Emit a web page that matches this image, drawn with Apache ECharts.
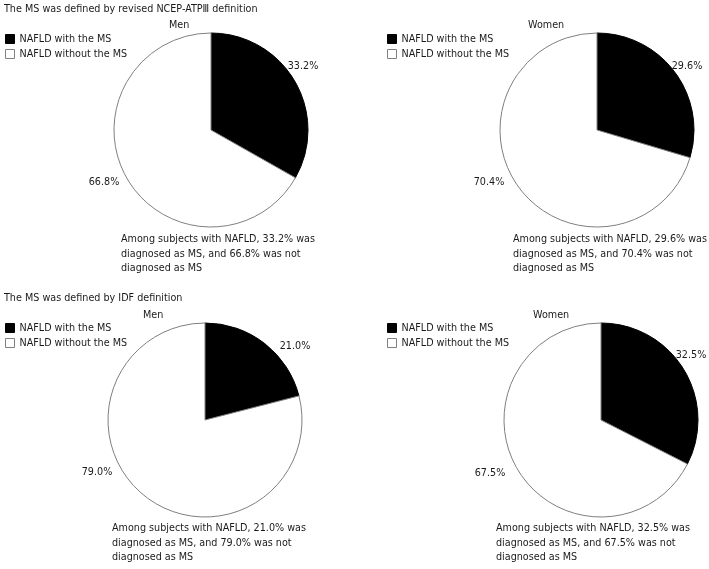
<!DOCTYPE html>
<html><head><meta charset="utf-8">
<script src="https://cdn.jsdelivr.net/npm/echarts@6/dist/echarts.min.js"></script>
<style>html,body{margin:0;padding:0;background:#fff}#c{width:709px;height:569px}</style>
</head><body><div id="c"></div>
<script>
const categories = ['NAFLD with the MS', 'NAFLD without the MS'];
const sectionTitles = ['The MS was defined by revised NCEP-ATPⅢ definition', 'The MS was defined by IDF definition'];
const panelNames = ['Men', 'Women', 'Men', 'Women'];
const atpMen = [33.2, 66.8];
const atpWomen = [29.6, 70.4];
const idfMen = [21.0, 79.0];
const idfWomen = [32.5, 67.5];
const panelValues = [atpMen, atpWomen, idfMen, idfWomen];

const FONT = 'DejaVu Sans Condensed';
const FS = 10.7;
const TXT = '#1a1a1a';
const R = 97;
const centers = [[211,130],[597,130],[205,420],[601,420]];
const panelTitlePos = [[169,20],[528,20],[143,310],[533,310]];
const legendPos = [[5,32],[387,32],[5,321],[387,321]];
const notePos = [[121,232],[513,232],[112,521],[496,521]];
const sectionPos = [[4,4],[4,293]];
const labelOffsets = [[[92,-64],[-107,52]],[[90,-64],[-108,52]],[[90,-74],[-108,52]],[[90,-65],[-111,53]]];
const sliceColors = ['#000000', '#ffffff'];
const sliceBorders = ['#000000', '#808080'];

const fmt = v => v.toFixed(1) + '%';
const ts = { fontFamily: FONT, fontSize: FS, fontWeight: 'normal', color: TXT };

const titles = [];
sectionTitles.forEach((t, i) => titles.push({ text: t, left: sectionPos[i][0], top: sectionPos[i][1], padding: 0, textStyle: ts }));
panelNames.forEach((t, i) => titles.push({ text: t, left: panelTitlePos[i][0], top: panelTitlePos[i][1], padding: 0, textStyle: ts }));
panelValues.forEach((v, i) => titles.push({
  text: 'Among subjects with NAFLD, ' + fmt(v[0]) + ' was\ndiagnosed as MS, and ' + fmt(v[1]) + ' was not\ndiagnosed as MS',
  left: notePos[i][0], top: notePos[i][1], padding: 0,
  textStyle: Object.assign({}, ts, { lineHeight: 14.5 })
}));

const legendData = categories.map((c, k) => ({ name: c, itemStyle: { color: sliceColors[k], borderColor: sliceBorders[k], borderWidth: 1 } }));
const legends = legendPos.map(p => ({
  orient: 'vertical', left: p[0], top: p[1], padding: 0, itemGap: 1,
  itemWidth: 9, itemHeight: 9, icon: 'rect', selectedMode: false,
  textStyle: Object.assign({}, ts, { lineHeight: 14 }), data: legendData
}));

const series = panelValues.map((vals, i) => ({
  type: 'pie', name: panelNames[i], center: centers[i], radius: R,
  startAngle: 90, clockwise: true, avoidLabelOverlap: false, silent: true, animation: false,
  data: vals.map((v, k) => ({ name: categories[k], value: v,
    itemStyle: { color: sliceColors[k], borderColor: sliceBorders[k], borderWidth: 1 } })),
  label: { show: true, position: 'outside', formatter: p => fmt(p.value), fontFamily: FONT, fontSize: FS, color: TXT },
  labelLine: { show: false },
  labelLayout: p => ({ x: centers[i][0] + labelOffsets[i][p.dataIndex][0], y: centers[i][1] + labelOffsets[i][p.dataIndex][1], align: 'center', verticalAlign: 'middle' })
}));

const chart = echarts.init(document.getElementById('c'), null, { renderer: 'canvas' });
chart.setOption({ backgroundColor: '#ffffff', animation: false, title: titles, legend: legends, series: series });
</script></body></html>
